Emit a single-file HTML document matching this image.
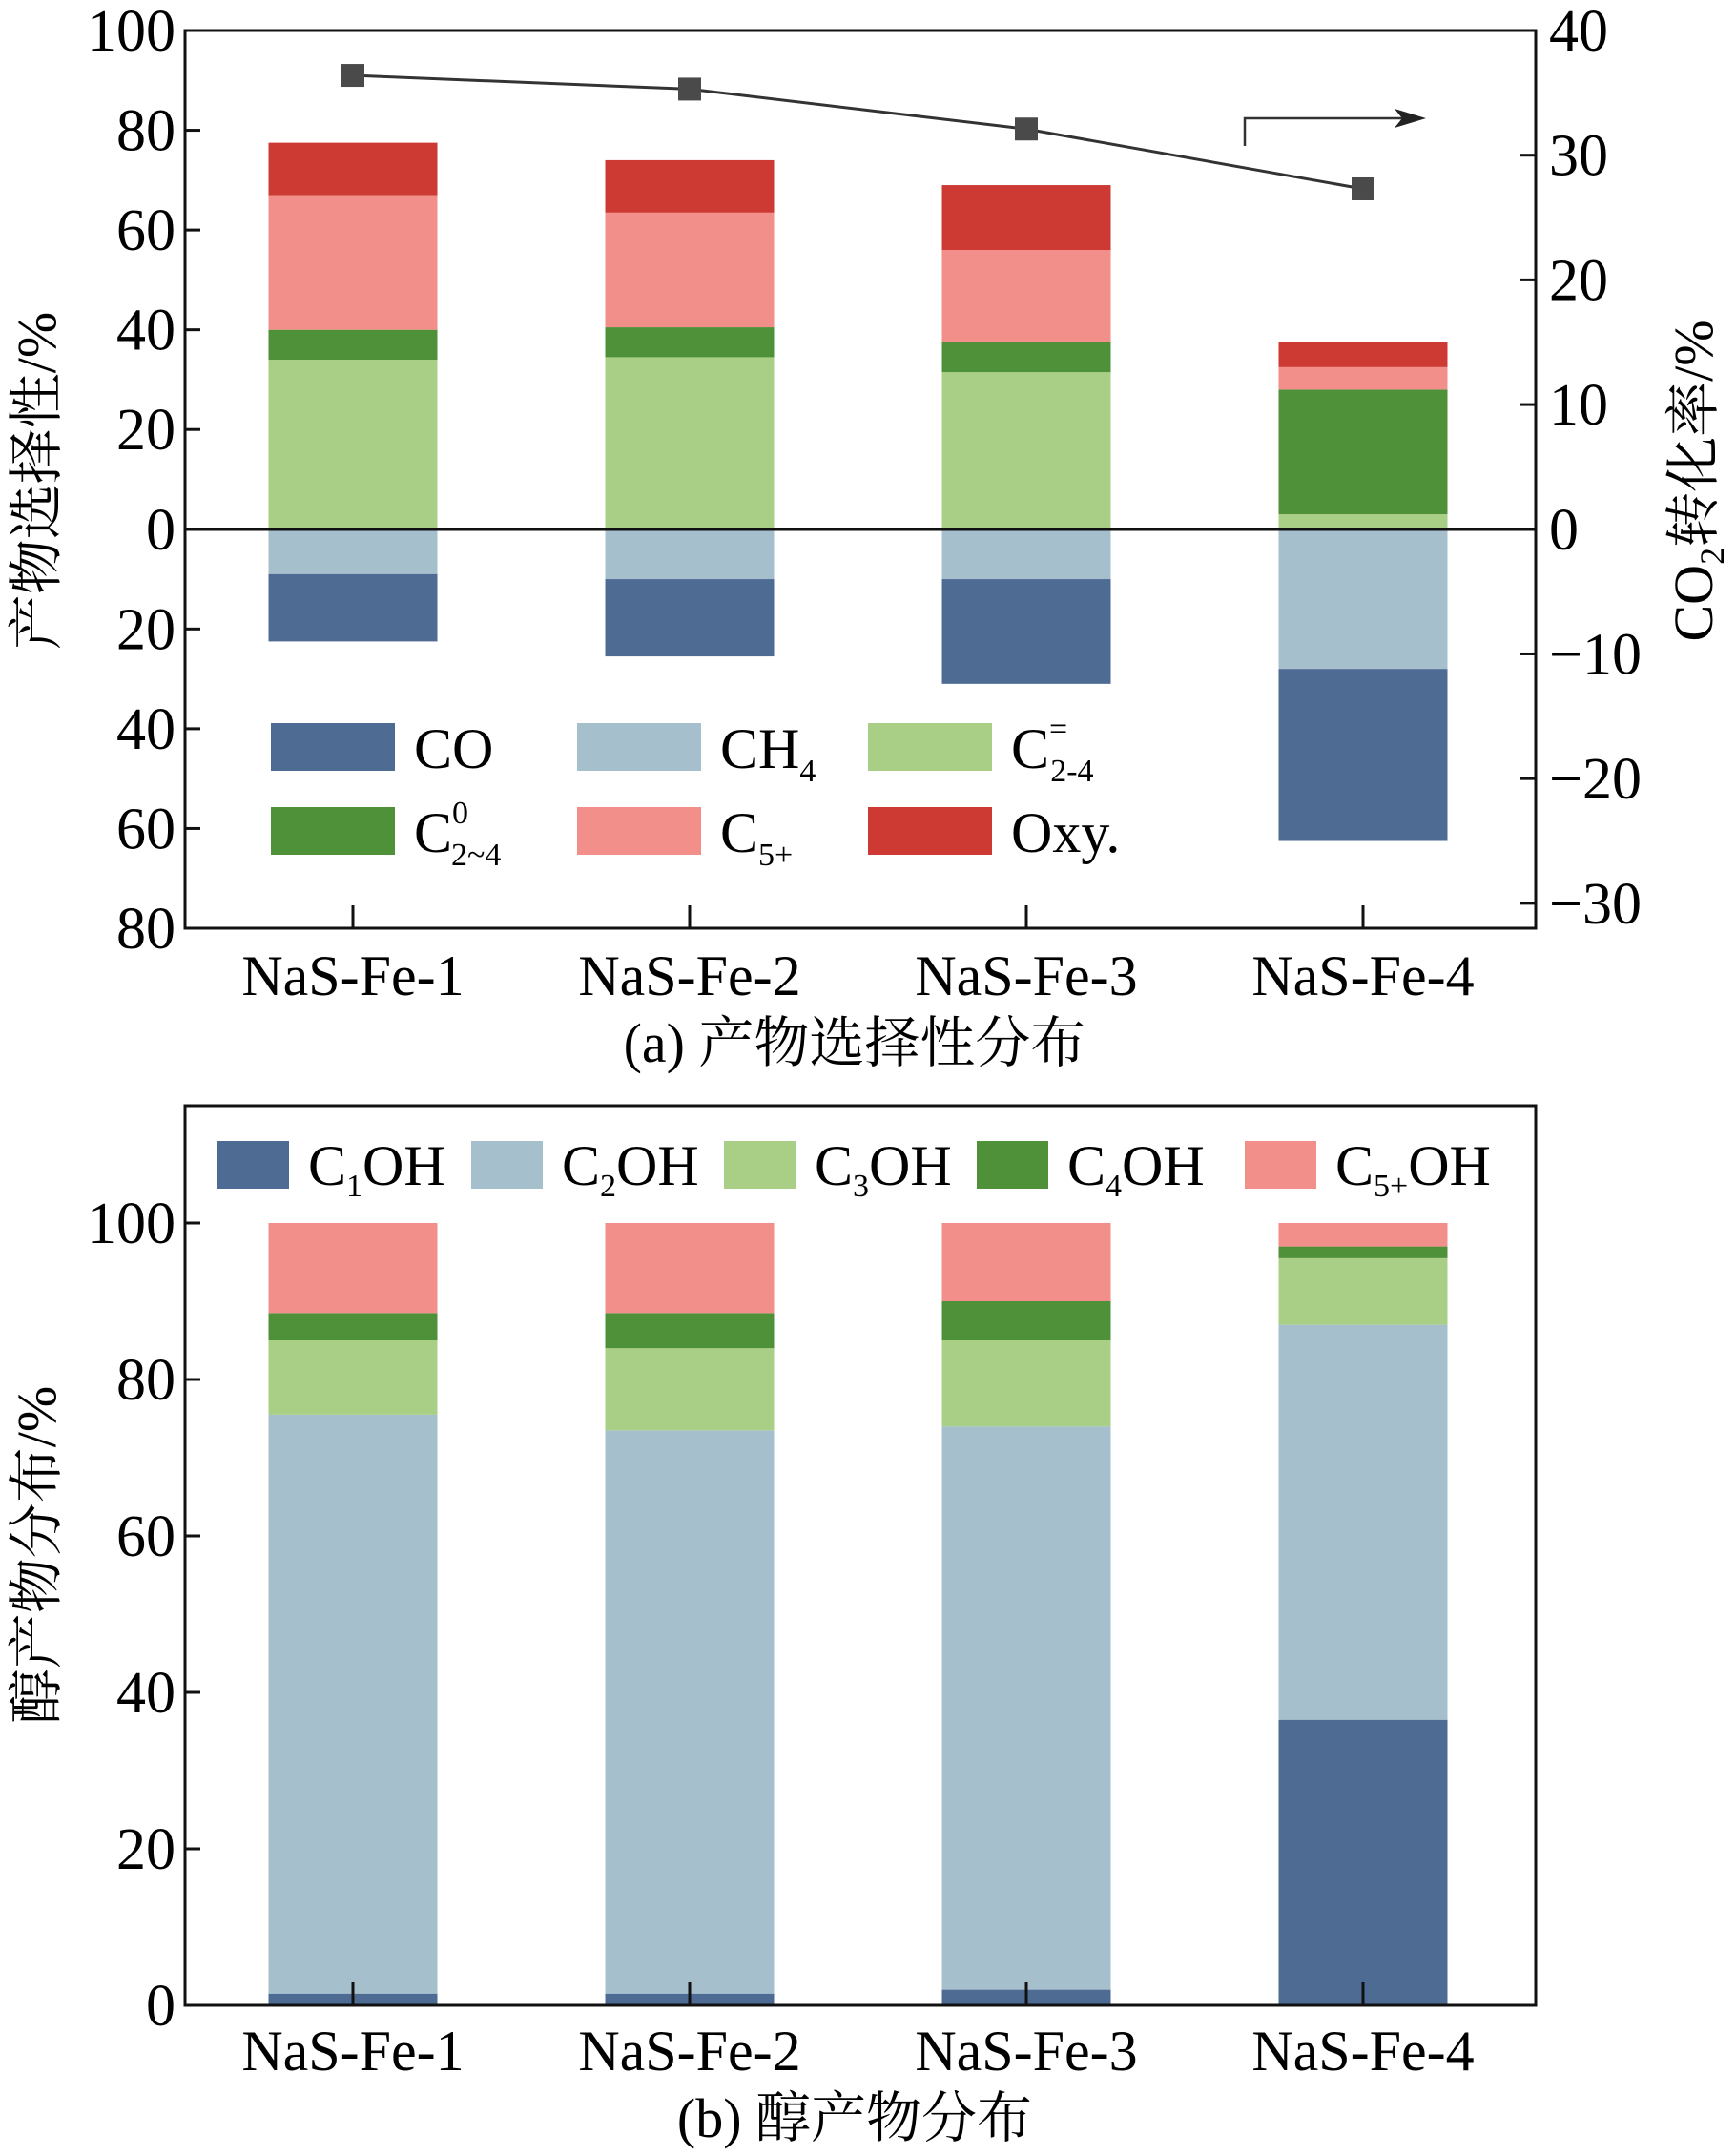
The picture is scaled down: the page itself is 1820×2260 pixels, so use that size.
<!DOCTYPE html>
<html><head><meta charset="utf-8"><style>
html,body{margin:0;padding:0;background:#fff;}
svg{display:block;font-family:"Liberation Serif","Noto Serif CJK SC",serif;}
</style></head><body>
<svg id="fig" width="1820" height="2260" viewBox="0 0 1820 2260" xmlns="http://www.w3.org/2000/svg"></svg>
<script>
const categories=["NaS-Fe-1","NaS-Fe-2","NaS-Fe-3","NaS-Fe-4"];
// panel a: positive stack
const c24ene=[34,34.5,31.5,3];
const c24ane=[6,6,6,25];
const c5plus=[27,23,18.5,4.5];
const oxy=[10.5,10.5,13,5];
// panel a: negative stack
const ch4=[9,10,10,28];
const co=[13.5,15.5,21,34.5];
const conversion=[36.4,35.3,32.1,27.3];
const leftTicksA=[100,80,60,40,20,0,-20,-40,-60,-80];
const rightTicksA=[40,30,20,10,0,-10,-20,-30];
// panel b
const c1oh=[1.5,1.5,2,36.5];
const c2oh=[74,72,72,50.5];
const c3oh=[9.5,10.5,11,8.5];
const c4oh=[3.5,4.5,5,1.5];
const c5oh=[11.5,11.5,10,3];
const ticksB=[0,20,40,60,80,100];

const NS="http://www.w3.org/2000/svg";
const svg=document.getElementById('fig');
function el(tag,attrs,parent,text){const e=document.createElementNS(NS,tag);for(const k in attrs)e.setAttribute(k,attrs[k]);if(text!==undefined)e.textContent=text;(parent||svg).appendChild(e);return e;}
const COL={co:"#4d6b93",ch4:"#a5bfcc",ene:"#a8cf85",ane:"#4f9139",c5:"#f28f8b",oxy:"#cc3a33"};
const L=194,R=1610,BW=177;
const xc=i=>370+i*353;

// ---------- panel a ----------
const ga=el('g',{});


const topA=32,botA=973;
const yA=v=>topA+(100-v)*(botA-topA)/180;
const yR=v=>yA(0)-v*(yA(0)-topA)/40;
const posSeries=[[c24ene,COL.ene,'c2-4-olefin'],[c24ane,COL.ane,'c2-4-paraffin'],[c5plus,COL.c5,'c5plus'],[oxy,COL.oxy,'oxy']];
const negSeries=[[ch4,COL.ch4,'ch4'],[co,COL.co,'co']];
categories.forEach((c,i)=>{
  let base=0;
  posSeries.forEach(([arr,col,nm])=>{
    const r=el('rect',{x:xc(i)-BW/2,y:yA(base+arr[i]),width:BW,height:yA(base)-yA(base+arr[i]),fill:col},ga);
    
    
    base+=arr[i];
  });
  base=0;
  negSeries.forEach(([arr,col,nm])=>{
    const r=el('rect',{x:xc(i)-BW/2,y:yA(-base),width:BW,height:yA(-base-arr[i])-yA(-base),fill:col},ga);
    
    
    base+=arr[i];
  });
});
// zero line
const zl=el('line',{x1:L,x2:R,y1:yA(0),y2:yA(0),stroke:"#111","stroke-width":3.5},ga);


// conversion line
const pts=conversion.map((v,i)=>xc(i)+','+yR(v)).join(' ');
const pl=el('polyline',{points:pts,fill:'none',stroke:'#333','stroke-width':3},ga);


conversion.forEach((v,i)=>{
  const m=el('rect',{x:xc(i)-12,y:yR(v)-12,width:24,height:24,fill:'#4a4a4a'},ga);
  
  
});
// arrow
const ar=el('path',{d:"M1305 153 L1305 124 L1470 124",fill:'none',stroke:'#333','stroke-width':2.5},ga);


el('path',{d:"M1495 124 L1462 114 L1470 124 L1462 134 Z",fill:'#222'},ga);
// frame
const fa=el('rect',{x:L,y:topA,width:R-L,height:botA-topA,fill:'none',stroke:'#111','stroke-width':3},ga);


leftTicksA.forEach(v=>{
  el('line',{x1:L,x2:L+16,y1:yA(v),y2:yA(v),stroke:'#111','stroke-width':3},ga);
  const t=el('text',{x:L-10,y:yA(v)+21,'text-anchor':'end','font-size':62},ga,String(Math.abs(v)));
  
  
});
rightTicksA.forEach(v=>{
  el('line',{x1:R,x2:R-16,y1:yR(v),y2:yR(v),stroke:'#111','stroke-width':3},ga);
  const t=el('text',{x:R+14,y:yR(v)+21,'text-anchor':'start','font-size':62},ga,v<0?'\u2212'+Math.abs(v):String(v));
  
  
});
categories.forEach((c,i)=>{
  el('line',{x1:xc(i),x2:xc(i),y1:botA,y2:botA-24,stroke:'#111','stroke-width':3},ga);
  const t=el('text',{x:xc(i),y:1043,'text-anchor':'middle','font-size':60},ga,c);
  
  
});
// legend a
const legA=[[284,783,COL.co,'CO','',''],[605,783,COL.ch4,'CH','4',''],[910,783,COL.ene,'C','2-4','='],
            [284,871,COL.ane,'C','2~4','0'],[605,871,COL.c5,'C','5+',''],[910,871,COL.oxy,'Oxy.','','']];
legA.forEach(([x,y,col,t,sub,sup])=>{
  const g=el('g',{},ga);
  
  
  el('rect',{x:x,y:y-25,width:130,height:50,fill:col},g);
  const tx=el('text',{x:x+150,y:y+22,'font-size':60},g);
  el('tspan',{},tx,t);
  if(sup){el('tspan',{'font-size':34,dy:-30},tx,sup);el('tspan',{'font-size':34,dx:-18,dy:44},tx,sub);}
  else if(sub){el('tspan',{'font-size':34,dy:14},tx,sub);}
});
const yla=el('text',{transform:'translate(58,504) rotate(-90)','text-anchor':'middle','font-size':58},ga,'产物选择性/%');


const yra=el('text',{transform:'translate(1795,504) rotate(-90)','text-anchor':'middle','font-size':58},ga);


el('tspan',{},yra,'CO');el('tspan',{'font-size':36,dy:12},yra,'2');el('tspan',{dy:-12},yra,'转化率/%');
const capA=el('text',{x:896,y:1113,'text-anchor':'middle','font-size':58},ga,'(a) 产物选择性分布');



// ---------- panel b ----------
const gb=el('g',{});


const topB=1159,botB=2102;
const yB=v=>botB-v*(botB-1282)/100;
const bSeries=[[c1oh,COL.co,'c1oh'],[c2oh,COL.ch4,'c2oh'],[c3oh,COL.ene,'c3oh'],[c4oh,COL.ane,'c4oh'],[c5oh,COL.c5,'c5oh']];
categories.forEach((c,i)=>{
  let base=0;
  bSeries.forEach(([arr,col,nm])=>{
    const r=el('rect',{x:xc(i)-BW/2,y:yB(base+arr[i]),width:BW,height:yB(base)-yB(base+arr[i]),fill:col},gb);
    
    
    base+=arr[i];
  });
});
const fb=el('rect',{x:L,y:topB,width:R-L,height:botB-topB,fill:'none',stroke:'#111','stroke-width':3},gb);


ticksB.forEach(v=>{
  el('line',{x1:L,x2:L+16,y1:yB(v),y2:yB(v),stroke:'#111','stroke-width':3},gb);
  const t=el('text',{x:L-10,y:yB(v)+21,'text-anchor':'end','font-size':62},gb,String(v));
  
  
});
categories.forEach((c,i)=>{
  el('line',{x1:xc(i),x2:xc(i),y1:botB,y2:botB-24,stroke:'#111','stroke-width':3},gb);
  const t=el('text',{x:xc(i),y:2170,'text-anchor':'middle','font-size':60},gb,c);
  
  
});
const legB=[[228,COL.co,'1'],[494,COL.ch4,'2'],[759,COL.ene,'3'],[1024,COL.ane,'4'],[1305,COL.c5,'5+']];
legB.forEach(([x,col,sub])=>{
  const g=el('g',{},gb);
  
  
  el('rect',{x:x,y:1196,width:75,height:50,fill:col},g);
  const tx=el('text',{x:x+95,y:1242,'font-size':60},g);
  el('tspan',{},tx,'C');el('tspan',{'font-size':34,dy:12},tx,sub);el('tspan',{dy:-12},tx,'OH');
});
const ylb=el('text',{transform:'translate(58,1630) rotate(-90)','text-anchor':'middle','font-size':58},gb,'醇产物分布/%');


const capB=el('text',{x:896,y:2240,'text-anchor':'middle','font-size':58},gb,'(b) 醇产物分布');


</script>
</body></html>
